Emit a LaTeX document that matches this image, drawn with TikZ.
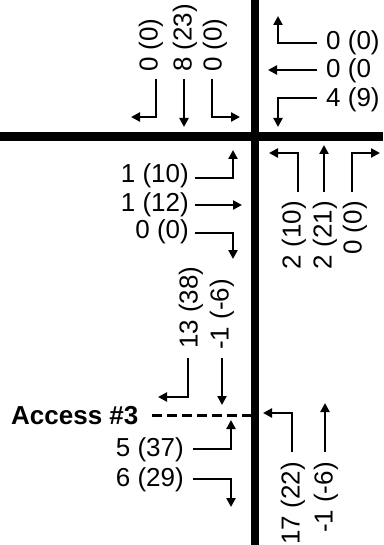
\documentclass[tikz,border=0pt]{standalone}
\usepackage{fontspec}
\setmainfont{Liberation Sans}
\usetikzlibrary{arrows.meta}
\begin{document}
\begin{tikzpicture}[x=1pt,y=-1pt,
  road/.style={line width=8.5pt},
  mv/.style={line width=2.4pt,-{Triangle[length=9pt,width=9pt]}},
  lab/.style={inner sep=0pt,font=\fontsize{26}{30}\selectfont},
  vlab/.style={lab,rotate=90},
  accessline/.style={line width=3pt,dash pattern=on 10pt off 5pt}]
\useasboundingbox (0,0) rectangle (383,545);
% roads
\coordinate (rN) at (255,0);
\coordinate (rS) at (255,545);
\coordinate (rW) at (0,136.5);
\coordinate (rE) at (383,136.5);
\draw[road] (rN) -- (rS);
\draw[road] (rW) -- (rE);

% southbound (top-left)
\node[vlab,anchor=west] (sbL) at (151,72) {0 (0)};
\node[vlab,anchor=west] (sbT) at (185,72) {8 (23)};
\node[vlab,anchor=west] (sbR) at (215,72) {0 (0)};
\coordinate (sbL1) at (156,79); \coordinate (sbL2) at (156,117); \coordinate (sbL3) at (131,117);
\coordinate (sbT1) at (184,79); \coordinate (sbT2) at (184,127);
\coordinate (sbR1) at (212,79); \coordinate (sbR2) at (212,117); \coordinate (sbR3) at (240,117);
\draw[mv] (sbL1) -- (sbL2) -- (sbL3);
\draw[mv] (sbT1) -- (sbT2);
\draw[mv] (sbR1) -- (sbR2) -- (sbR3);

% westbound (top-right)
\node[lab,anchor=west] (wbR) at (326,43) {0 (0)};
\node[lab,anchor=west] (wbT) at (326,71) {0 (0};
\node[lab,anchor=west] (wbL) at (326,100) {4 (9)};
\coordinate (wbR1) at (317,43); \coordinate (wbR2) at (278,43); \coordinate (wbR3) at (278,16);
\coordinate (wbT1) at (317,70); \coordinate (wbT2) at (268,70);
\coordinate (wbL1) at (317,98); \coordinate (wbL2) at (278,98); \coordinate (wbL3) at (278,127);
\draw[mv] (wbR1) -- (wbR2) -- (wbR3);
\draw[mv] (wbT1) -- (wbT2);
\draw[mv] (wbL1) -- (wbL2) -- (wbL3);

% eastbound (left, below main road)
\node[lab,anchor=east] (ebL) at (189,176) {1 (10)};
\node[lab,anchor=east] (ebT) at (189,205) {1 (12)};
\node[lab,anchor=east] (ebR) at (189,232) {0 (0)};
\coordinate (ebL1) at (195,178); \coordinate (ebL2) at (233,178); \coordinate (ebL3) at (233,150);
\coordinate (ebT1) at (195,205); \coordinate (ebT2) at (242,205);
\coordinate (ebR1) at (195,233); \coordinate (ebR2) at (233,233); \coordinate (ebR3) at (233,259);
\draw[mv] (ebL1) -- (ebL2) -- (ebL3);
\draw[mv] (ebT1) -- (ebT2);
\draw[mv] (ebR1) -- (ebR2) -- (ebR3);

% northbound (right, below main road)
\node[vlab,anchor=east] (nbL) at (294,201) {2 (10)};
\node[vlab,anchor=east] (nbT) at (325,201) {2 (21)};
\node[vlab,anchor=east] (nbR) at (355,201) {0 (0)};
\coordinate (nbL1) at (298,192); \coordinate (nbL2) at (298,153); \coordinate (nbL3) at (269,153);
\coordinate (nbT1) at (324,192); \coordinate (nbT2) at (324,145);
\coordinate (nbR1) at (352,192); \coordinate (nbR2) at (352,153); \coordinate (nbR3) at (380,153);
\draw[mv] (nbL1) -- (nbL2) -- (nbL3);
\draw[mv] (nbT1) -- (nbT2);
\draw[mv] (nbR1) -- (nbR2) -- (nbR3);

% southbound at access
\node[vlab,anchor=west] (asL) at (191,349) {13 (38)};
\node[vlab,anchor=west] (asT) at (222,350) {-1 (-6)};
\coordinate (asL1) at (188,358); \coordinate (asL2) at (188,397); \coordinate (asL3) at (158,397);
\coordinate (asT1) at (222,358); \coordinate (asT2) at (222,405);
\draw[mv] (asL1) -- (asL2) -- (asL3);
\draw[mv] (asT1) -- (asT2);

% access
\node[lab,anchor=west,font=\fontsize{26}{30}\selectfont\bfseries] (acc) at (11,416) {Access \#3};
\coordinate (accE) at (251,415);
\draw[accessline] (152,415) -- (accE);

% exiting access
\node[lab,anchor=east] (aeL) at (184,450) {5 (37)};
\node[lab,anchor=east] (aeR) at (184,480) {6 (29)};
\coordinate (aeL1) at (193,449); \coordinate (aeL2) at (231,449); \coordinate (aeL3) at (231,420);
\coordinate (aeR1) at (193,479); \coordinate (aeR2) at (231,479); \coordinate (aeR3) at (231,507);
\draw[mv] (aeL1) -- (aeL2) -- (aeL3);
\draw[mv] (aeR1) -- (aeR2) -- (aeR3);

% northbound at access
\node[vlab,anchor=east] (anL) at (293,462) {17 (22)};
\node[vlab,anchor=east] (anT) at (326,462) {-1 (-6)};
\coordinate (anL1) at (292,452); \coordinate (anL2) at (292,413); \coordinate (anL3) at (263,413);
\coordinate (anT1) at (325,452); \coordinate (anT2) at (325,403);
\draw[mv] (anL1) -- (anL2) -- (anL3);
\draw[mv] (anT1) -- (anT2);
\end{tikzpicture}
\end{document}
